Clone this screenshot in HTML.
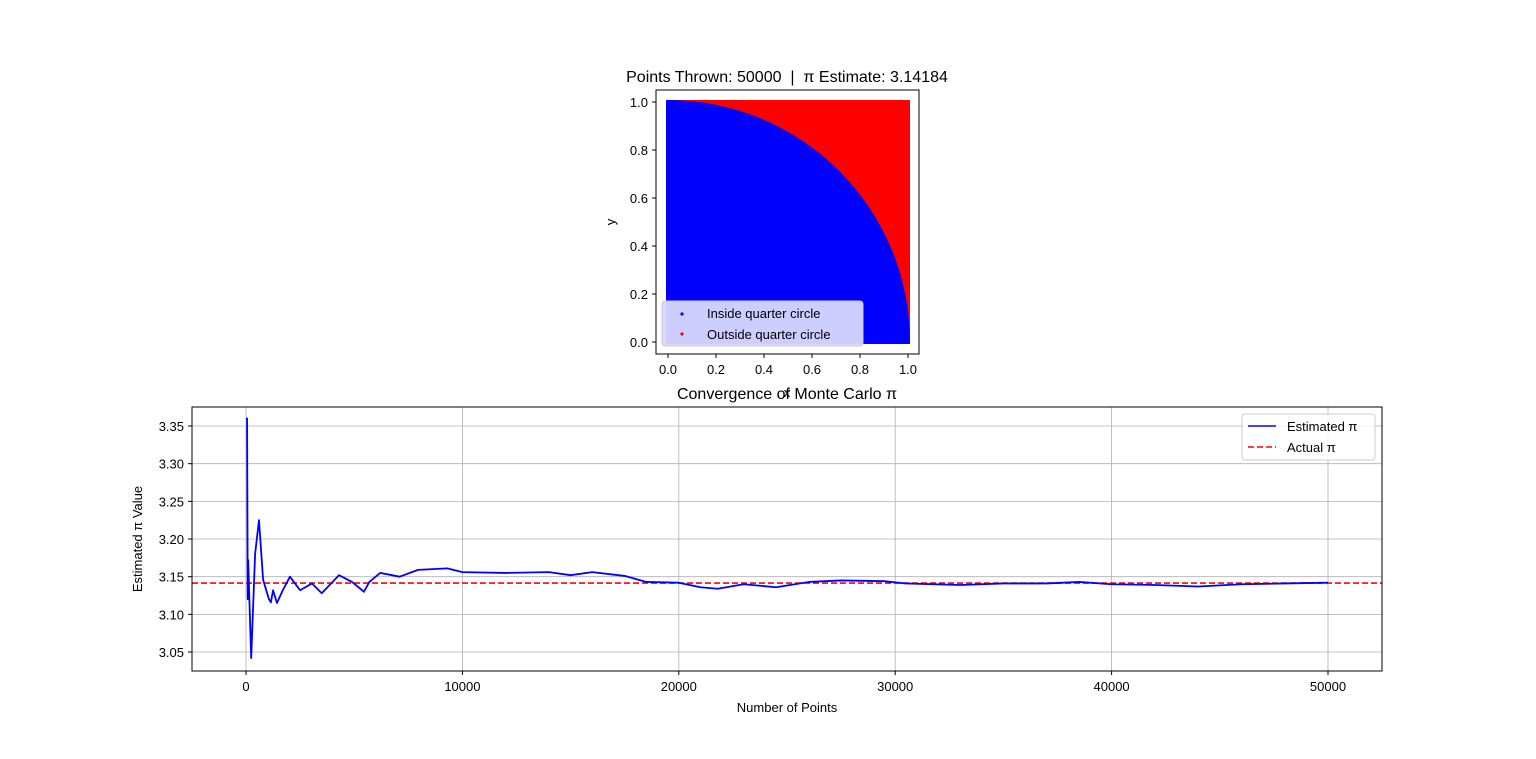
<!DOCTYPE html>
<html><head><meta charset="utf-8"><style>
body{margin:0;background:#fff;}
svg text{font-family:"Liberation Sans","DejaVu Sans",sans-serif;fill:#000;}
</style></head><body>
<svg id="fig" width="1536" height="754" xmlns="http://www.w3.org/2000/svg">
<g id="top"></g>
<g id="bot"></g>
</svg>
<script>
const scatterTicks=[0,0.2,0.4,0.6,0.8,1.0];
const radius=[1];
const nPoints=[0,50,80,100,240,420,600,790,1060,1150,1250,1430,1700,2030,2500,3050,3500,4300,4900,5450,5700,6200,7100,7950,9300,10000,12000,14000,15000,16000,17500,18500,20000,21000,21800,23000,24500,26000,27500,29500,30500,33000,35000,37000,38500,40000,42000,44000,46000,48000,50000];
const piEst=[3.36,3.36,3.12,3.172,3.042,3.18,3.225,3.146,3.12,3.116,3.132,3.115,3.132,3.15,3.132,3.141,3.128,3.152,3.143,3.130,3.143,3.155,3.15,3.159,3.161,3.156,3.155,3.156,3.152,3.156,3.151,3.143,3.142,3.136,3.134,3.140,3.136,3.143,3.145,3.144,3.141,3.139,3.141,3.141,3.143,3.140,3.139,3.137,3.140,3.141,3.142];
const xTicks=[0,10000,20000,30000,40000,50000];
const yTicks=[3.05,3.10,3.15,3.20,3.25,3.30,3.35];
const actualPi=[Math.PI];
const NS="http://www.w3.org/2000/svg";
function mk(p,t,a,txt){const e=document.createElementNS(NS,t);for(const k in a)e.setAttribute(k,a[k]);if(txt!==undefined)e.textContent=txt;p.appendChild(e);return e;}
const T=document.getElementById('top');
const sx=v=>668+v*240, sy=v=>342-v*240;
let e;
e=mk(T,'rect',{x:sx(0)-2,y:sy(1)-2,width:sx(1)-sx(0)+4,height:sy(0)-sy(1)+4,fill:'#ff0000'});


const r=radius[0];
e=mk(T,'path',{d:`M${sx(0)-2},${sy(0)+2} L${sx(0)-2},${sy(r)-2} A${(sx(r)-sx(0))+2},${(sy(0)-sy(r))+2} 0 0 1 ${sx(r)+2},${sy(0)+2} Z`,fill:'#0000ff'});


e=mk(T,'rect',{x:656,y:90,width:263,height:264,fill:'none',stroke:'#000','stroke-width':1});


scatterTicks.forEach(v=>{
 mk(T,'line',{x1:sx(v),x2:sx(v),y1:354,y2:358,stroke:'#000'});
 e=mk(T,'text',{x:sx(v),y:374,'font-size':13,'text-anchor':'middle'},v.toFixed(1));
 
 
 mk(T,'line',{x1:652,x2:656,y1:sy(v),y2:sy(v),stroke:'#000'});
 e=mk(T,'text',{x:648,y:sy(v)+5,'font-size':13,'text-anchor':'end'},v.toFixed(1));
 
 
});
e=mk(T,'text',{x:787,y:82,'font-size':16,'text-anchor':'middle'},'Points Thrown: 50000\u00a0\u00a0|\u00a0\u00a0π Estimate: 3.14184');


e=mk(T,'text',{x:787,y:397,'font-size':13,'text-anchor':'middle'},'x');


e=mk(T,'text',{x:615,y:222,'font-size':13,'text-anchor':'middle',transform:'rotate(-90 615 222)'},'y');


e=mk(T,'rect',{x:662,y:301,width:201,height:45,rx:3,fill:'#d8d8ff','fill-opacity':0.95,stroke:'#ccc'});


mk(T,'circle',{cx:682,cy:314,r:1.6,fill:'#0000ff'});
mk(T,'circle',{cx:682,cy:334,r:1.6,fill:'#ff0000'});
e=mk(T,'text',{x:707,y:318,'font-size':13},'Inside quarter circle');


e=mk(T,'text',{x:707,y:339,'font-size':13},'Outside quarter circle');


const B=document.getElementById('bot');
const bx=v=>246+v/50000*1082, by=v=>426+(3.35-v)/0.05*37.67;
e=mk(B,'text',{x:787,y:399,'font-size':16,'text-anchor':'middle'},'Convergence of Monte Carlo π');


xTicks.forEach(v=>{
 e=mk(B,'line',{x1:bx(v),x2:bx(v),y1:407,y2:671,stroke:'#b0b0b0','stroke-width':0.8});
 
 
 mk(B,'line',{x1:bx(v),x2:bx(v),y1:671,y2:675,stroke:'#000'});
 e=mk(B,'text',{x:bx(v),y:691,'font-size':13,'text-anchor':'middle'},String(v));
 
 
});
yTicks.forEach(v=>{
 e=mk(B,'line',{x1:192,x2:1382,y1:by(v),y2:by(v),stroke:'#b0b0b0','stroke-width':0.8});
 
 
 mk(B,'line',{x1:188,x2:192,y1:by(v),y2:by(v),stroke:'#000'});
 e=mk(B,'text',{x:184,y:by(v)+5,'font-size':13,'text-anchor':'end'},v.toFixed(2));
 
 
});
e=mk(B,'line',{x1:192,x2:1382,y1:by(actualPi[0]),y2:by(actualPi[0]),stroke:'#ff0000','stroke-width':1.6,'stroke-dasharray':'6,3'});


e=mk(B,'polyline',{points:nPoints.map((n,i)=>bx(n)+','+by(piEst[i])).join(' '),fill:'none',stroke:'#0000ff','stroke-width':1.8,'stroke-linejoin':'round'});


e=mk(B,'rect',{x:192,y:407,width:1190,height:264,fill:'none',stroke:'#000'});


e=mk(B,'text',{x:787,y:712,'font-size':13,'text-anchor':'middle'},'Number of Points');


e=mk(B,'text',{x:142,y:539,'font-size':13,'text-anchor':'middle',transform:'rotate(-90 142 539)'},'Estimated π Value');


e=mk(B,'rect',{x:1242,y:414,width:133,height:46,rx:3,fill:'#fff','fill-opacity':0.8,stroke:'#ccc'});


mk(B,'line',{x1:1248,x2:1276,y1:426,y2:426,stroke:'#0000ff','stroke-width':1.6});
mk(B,'line',{x1:1248,x2:1276,y1:447,y2:447,stroke:'#ff0000','stroke-width':1.6,'stroke-dasharray':'6,3'});
e=mk(B,'text',{x:1287,y:431,'font-size':13},'Estimated π');


e=mk(B,'text',{x:1287,y:452,'font-size':13},'Actual π');


</script>
</body></html>
